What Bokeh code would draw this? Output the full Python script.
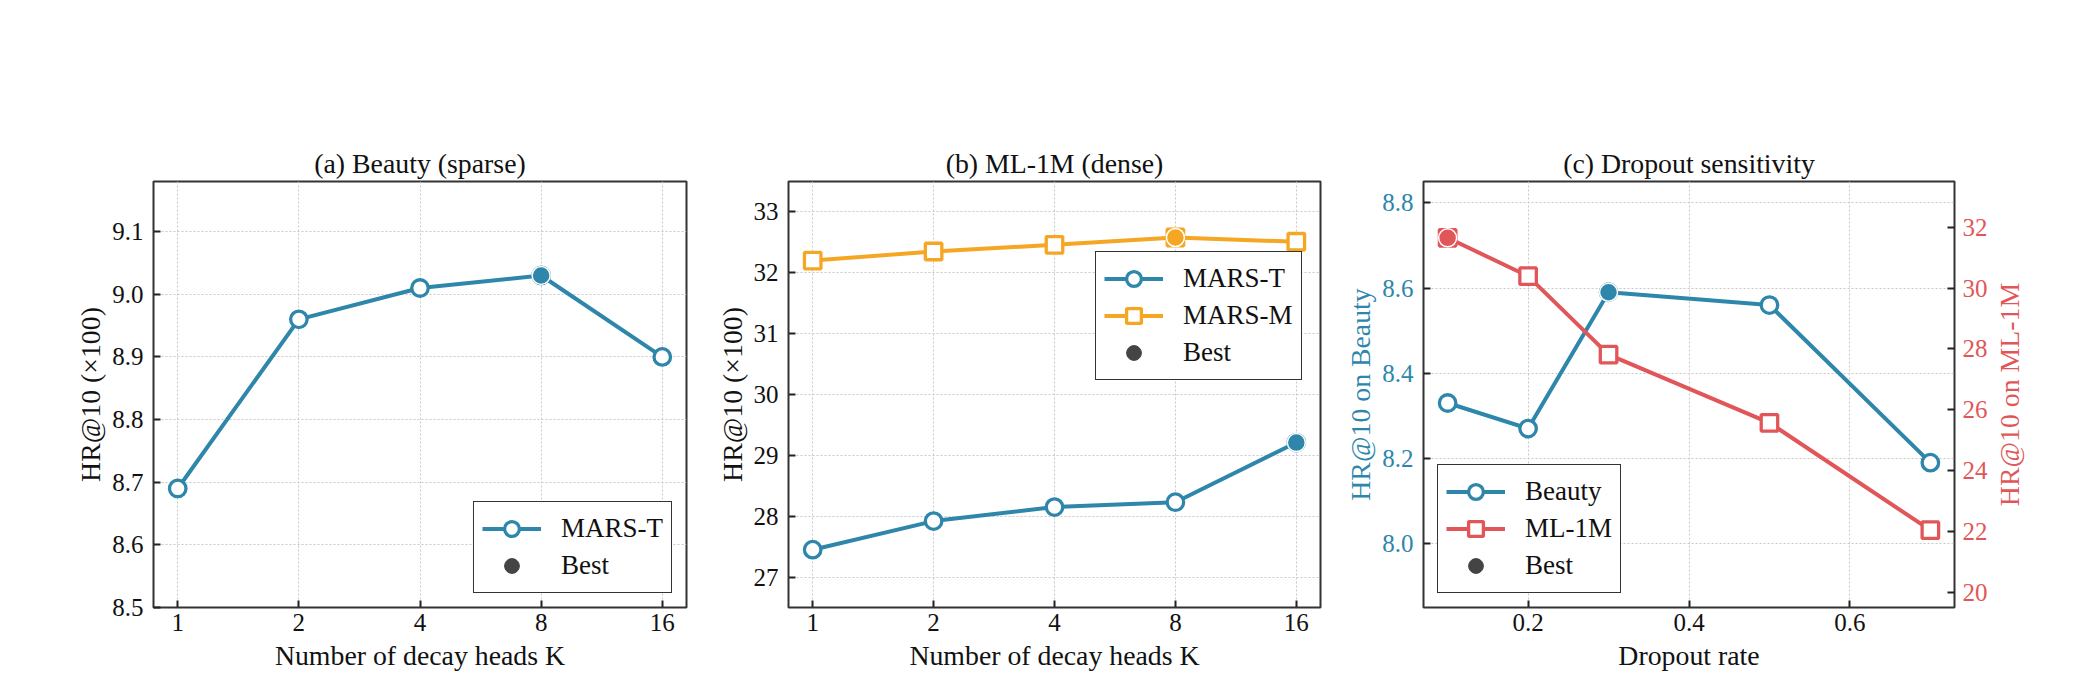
import math
import numpy as np
from bokeh.plotting import figure
from bokeh.layouts import row
from bokeh.models import (Range1d, FixedTicker, LinearAxis, Legend, LegendItem,
                          ColumnDataSource, NumeralTickFormatter, BasicTickFormatter)
from bokeh.embed import file_html
from bokeh.resources import INLINE

# ---------------- data ----------------
K = [1, 2, 4, 8, 16]
beauty_mars_t = [8.69, 8.96, 9.01, 9.03, 8.90]
ml1m_mars_t = [27.45, 27.92, 28.15, 28.23, 29.21]
ml1m_mars_m = [32.20, 32.35, 32.46, 32.58, 32.51]
dropout = [0.1, 0.2, 0.3, 0.5, 0.7]
dropout_beauty = [8.33, 8.27, 8.59, 8.56, 8.19]
dropout_ml1m = [31.65, 30.39, 27.81, 25.57, 22.04]

a_yticks = [8.5, 8.6, 8.7, 8.8, 8.9, 9.0, 9.1]
b_yticks = [27, 28, 29, 30, 31, 32, 33]
c_xticks = [0.2, 0.4, 0.6]
c_left_ticks = [8.0, 8.2, 8.4, 8.6, 8.8]
c_right_ticks = [20, 22, 24, 26, 28, 30, 32]

# ---------------- style ----------------
FONT = "Liberation Serif"
BLUE = "#2E86AB"
ORANGE = "#F5A623"
RED = "#E15759"
GRAY = "#444444"
LW = 4
MS = 16.5
MEW = 3.3
BEST_SIZE = 18
TICK_FS = "25px"
LABEL_FS = "27.8px"
LEG_FS = "27px"
H = 685
TOP = 181
BOTTOM = 78


def make_fig(width, left, right, x_range, y_range, x_log, title):
    p = figure(width=width, height=H, x_range=x_range, y_range=y_range,
               x_axis_type="log" if x_log else "linear",
               output_backend="svg", toolbar_location=None,
               min_border_left=left, min_border_right=right,
               min_border_top=TOP, min_border_bottom=BOTTOM, title=title)
    p.title.align = "center"
    p.title.text_font = FONT
    p.title.text_font_size = LABEL_FS
    p.title.text_font_style = "normal"
    p.title.text_color = "#111111"
    p.title.standoff = 6
    p.outline_line_color = "#333333"
    p.outline_line_width = 2
    p.outline_line_alpha = 1
    p.background_fill_color = "white"
    p.border_fill_color = "white"
    for g in (p.xgrid, p.ygrid):
        g.grid_line_color = "#c8c8c8"
        g.grid_line_dash = "2 2"
        g.grid_line_width = 1
    return p


def style_axis(ax, color="#111111", label_standoff=10, axis_standoff=3):
    ax.axis_line_color = None
    ax.major_tick_in = 7
    ax.major_tick_out = 0
    ax.minor_tick_line_color = None
    ax.major_tick_line_color = "#222222"
    ax.major_tick_line_width = 2
    ax.major_label_text_font = FONT
    ax.major_label_text_font_size = TICK_FS
    ax.major_label_text_color = color
    ax.axis_label_text_font = FONT
    ax.axis_label_text_font_size = LABEL_FS
    ax.axis_label_text_font_style = "normal"
    ax.axis_label_text_color = color
    ax.major_label_standoff = label_standoff
    ax.axis_label_standoff = axis_standoff


def make_legend(items, location):
    leg = Legend(items=items, location=location)
    leg.label_text_font = FONT
    leg.label_text_font_size = LEG_FS
    leg.label_text_color = "#111111"
    leg.glyph_width = 59
    leg.glyph_height = 37
    leg.label_height = 37
    leg.spacing = 0
    leg.padding = 8
    leg.margin = 14
    leg.label_standoff = 20
    leg.border_line_color = "#333333"
    leg.border_line_width = 1.2
    leg.border_line_alpha = 1
    leg.background_fill_color = "white"
    leg.background_fill_alpha = 1
    return leg


def series(p, x, y, color, marker, y_range_name="default"):
    src = ColumnDataSource(dict(x=x, y=y))
    ln = p.line("x", "y", source=src, line_color=color, line_width=LW,
                y_range_name=y_range_name)
    sc = p.scatter("x", "y", source=src, marker=marker, size=MS,
                   fill_color="white", line_color=color, line_width=MEW,
                   y_range_name=y_range_name)
    return ln, sc


def best(p, x, y, color, y_range_name="default"):
    i = int(np.argmax(y))
    p.scatter([x[i]], [y[i]], marker="circle", size=BEST_SIZE, fill_color=color,
              line_color="white", line_width=1.5, y_range_name=y_range_name)


def best_legend_renderer(p):
    return p.scatter([float("nan")], [float("nan")], marker="circle", size=15,
                     fill_color=GRAY, line_color=GRAY)


# ---------------- (a) ----------------
pa = make_fig(712, 153, 26, Range1d(2 ** -0.2, 2 ** 4.2), Range1d(8.5, 9.18), True,
              "(a) Beauty (sparse)")
la, sa = series(pa, K, beauty_mars_t, BLUE, "circle")
best(pa, K, beauty_mars_t, BLUE)
ba = best_legend_renderer(pa)
pa.xaxis.ticker = FixedTicker(ticks=K)
pa.xaxis.formatter = BasicTickFormatter()
pa.xgrid.ticker = FixedTicker(ticks=K)
pa.yaxis.ticker = FixedTicker(ticks=a_yticks)
pa.yaxis.formatter = NumeralTickFormatter(format="0.0")
pa.ygrid.ticker = FixedTicker(ticks=a_yticks)
pa.xaxis.axis_label = "Number of decay heads K"
pa.yaxis.axis_label = "HR@10 (×100)"
style_axis(pa.xaxis[0], label_standoff=6, axis_standoff=6)
style_axis(pa.yaxis[0])
pa.add_layout(make_legend([LegendItem(label="MARS-T", renderers=[la, sa]),
                           LegendItem(label="Best", renderers=[ba])], "bottom_right"))

# ---------------- (b) ----------------
pb = make_fig(628, 76, 20, Range1d(2 ** -0.2, 2 ** 4.2), Range1d(26.5, 33.5), True,
              "(b) ML-1M (dense)")
lbt, sbt = series(pb, K, ml1m_mars_t, BLUE, "circle")
lbm, sbm = series(pb, K, ml1m_mars_m, ORANGE, "square")
best(pb, K, ml1m_mars_t, BLUE)
best(pb, K, ml1m_mars_m, ORANGE)
bb = best_legend_renderer(pb)
pb.xaxis.ticker = FixedTicker(ticks=K)
pb.xaxis.formatter = BasicTickFormatter()
pb.xgrid.ticker = FixedTicker(ticks=K)
pb.yaxis.ticker = FixedTicker(ticks=b_yticks)
pb.yaxis.formatter = NumeralTickFormatter(format="0")
pb.ygrid.ticker = FixedTicker(ticks=b_yticks)
pb.xaxis.axis_label = "Number of decay heads K"
pb.yaxis.axis_label = "HR@10 (×100)"
style_axis(pb.xaxis[0], label_standoff=6, axis_standoff=6)
style_axis(pb.yaxis[0])
pb.add_layout(make_legend([LegendItem(label="MARS-T", renderers=[lbt, sbt]),
                           LegendItem(label="MARS-M", renderers=[lbm, sbm]),
                           LegendItem(label="Best", renderers=[bb])], (307, 227)))

# ---------------- (c) ----------------
ml_range = Range1d(19.5, 33.5)
pc = make_fig(650, 83, 35, Range1d(0.07, 0.73), Range1d(7.85, 8.85), False,
              "(c) Dropout sensitivity")
pc.extra_y_ranges = {"ml": ml_range}
lcb, scb = series(pc, dropout, dropout_beauty, BLUE, "circle")
lcm, scm = series(pc, dropout, dropout_ml1m, RED, "square", y_range_name="ml")
best(pc, dropout, dropout_beauty, BLUE)
best(pc, dropout, dropout_ml1m, RED, y_range_name="ml")
bc = best_legend_renderer(pc)
pc.xaxis.ticker = FixedTicker(ticks=c_xticks)
pc.xaxis.formatter = NumeralTickFormatter(format="0.0")
pc.xgrid.ticker = FixedTicker(ticks=c_xticks)
pc.yaxis.ticker = FixedTicker(ticks=c_left_ticks)
pc.yaxis.formatter = NumeralTickFormatter(format="0.0")
pc.ygrid.ticker = FixedTicker(ticks=c_left_ticks)
pc.xaxis.axis_label = "Dropout rate"
pc.yaxis.axis_label = "HR@10 on Beauty"
style_axis(pc.xaxis[0], label_standoff=6, axis_standoff=6)
style_axis(pc.yaxis[0], color=BLUE)
rax = LinearAxis(y_range_name="ml",
                 ticker=FixedTicker(ticks=c_right_ticks),
                 formatter=NumeralTickFormatter(format="0"))
style_axis(rax, color=RED, label_standoff=8, axis_standoff=1)
pc.add_layout(rax, "right")
pc.add_layout(make_legend([LegendItem(label="Beauty", renderers=[lcb, scb]),
                           LegendItem(label="ML-1M", renderers=[lcm, scm]),
                           LegendItem(label="Best", renderers=[bc])], "bottom_left"))

# ---- title strip for the right-hand (ML-1M) axis of (c), reading bottom-to-top ----
pr = figure(width=85, height=H, x_range=Range1d(0, 1), y_range=ml_range,
            output_backend="svg", toolbar_location=None, x_axis_location=None,
            min_border_left=30, min_border_right=0,
            min_border_top=TOP, min_border_bottom=BOTTOM)
pr.outline_line_color = None
pr.grid.visible = False
pr.background_fill_color = "white"
pr.border_fill_color = "white"
pr.yaxis.ticker = FixedTicker(ticks=[])
pr.yaxis.axis_label = "HR@10 on ML-1M"
style_axis(pr.yaxis[0], color=RED, label_standoff=0, axis_standoff=0)
pr.yaxis.major_tick_in = 0
pr.yaxis.major_tick_line_color = None

layout = row(pa, pb, pc, pr)
open("out.html", "w").write(file_html(layout, INLINE))
